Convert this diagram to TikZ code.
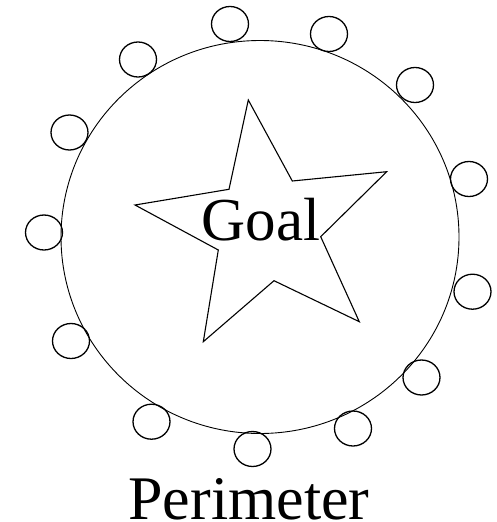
\documentclass[tikz,border=0pt]{standalone}
\usepackage{fontspec}
\setmainfont{Liberation Serif}
\usetikzlibrary{shapes.geometric}
\tikzset{
  perim/.style={draw, ellipse, line width=0.9pt, minimum width=398pt, minimum height=393pt, inner sep=0pt},
  bead/.style={draw, ellipse, line width=1.3pt, minimum width=37pt, minimum height=35pt, inner sep=0pt},
  goalstar/.style={draw, line width=1.1pt, line join=miter},
  bigtext/.style={inner sep=0pt, anchor=base}
}
\begin{document}
\begin{tikzpicture}[x=1pt,y=-1pt]
\useasboundingbox (0,0) rectangle (497,522);
\node[perim] (ring) at (260,237) {};
\draw[goalstar] (248.3,100) -- (292.3,181) -- (386.7,171.7) -- (320.7,236.7) -- (359.3,321.7)
  -- (274,280.7) -- (203.3,341.7) -- (218.3,250) -- (135,205) -- (229,189.3) -- cycle;
\node[bigtext, font=\fontsize{61}{72}\selectfont] (goal) at (261,240) {Goal};
\node[bigtext, font=\fontsize{62}{72}\selectfont] (perimeter) at (249,519.3) {Perimeter};
\node[bead] (c1) at (230,24) {};
\node[bead] (c2) at (329,34) {};
\node[bead] (c3) at (415,85) {};
\node[bead] (c4) at (469,179) {};
\node[bead] (c5) at (472.5,291.7) {};
\node[bead] (c6) at (421.5,377.5) {};
\node[bead] (c7) at (353,428.5) {};
\node[bead] (c8) at (252.5,449) {};
\node[bead] (c9) at (151.5,421.7) {};
\node[bead] (c10) at (71,341) {};
\node[bead] (c11) at (44,232.5) {};
\node[bead] (c12) at (69.5,132.5) {};
\node[bead] (c13) at (138,59.5) {};
\end{tikzpicture}
\end{document}
